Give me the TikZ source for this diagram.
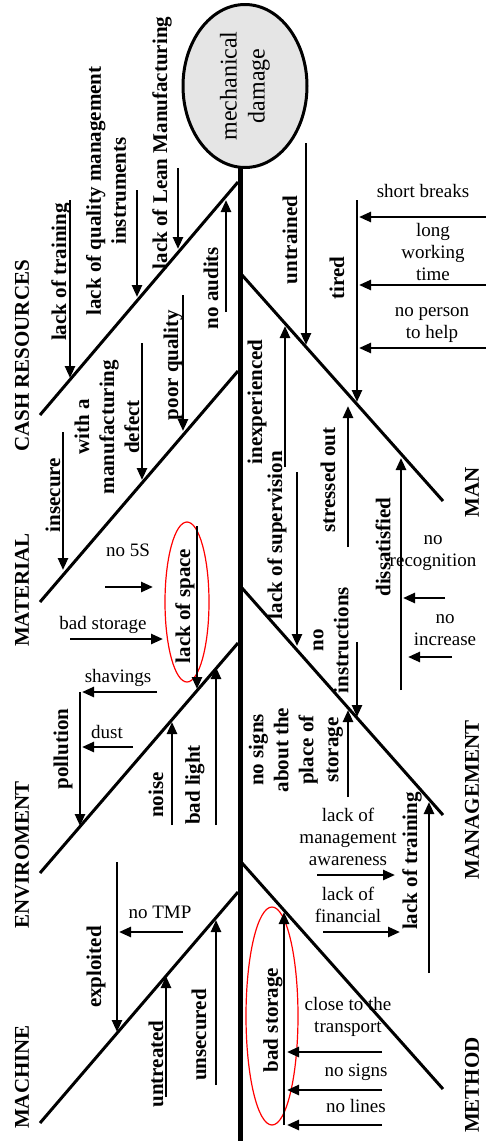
\documentclass[tikz,border=0pt]{standalone}
\usepackage{fontspec}
\setmainfont{Liberation Serif}
\usetikzlibrary{positioning}
\usetikzlibrary{arrows.meta}
\usetikzlibrary{shapes.geometric}

\begin{document}
\begin{tikzpicture}[x=1pt,y=-1pt]
\tikzset{
  head/.style={ellipse,draw=black,fill=gray!20,line width=3pt,rotate=90,minimum width=163pt,minimum height=124pt,inner sep=0pt,align=center,font=\fontsize{24}{28}\selectfont},
  bone/.style={line width=3pt},
  spine/.style={line width=5pt},
  cause/.style={line width=2.5pt,-{Triangle[length=12pt,width=10pt]}},
  why/.style={rotate=90,inner sep=0pt,align=center,font=\fontsize{21}{25}\selectfont\bfseries},
  note/.style={inner sep=0pt,align=center,font=\fontsize{19}{22}\selectfont},
  ring/.style={ellipse,draw=red,line width=1.2pt,inner sep=0pt},
}
\useasboundingbox (0,0) rectangle (486,1141);
%
\coordinate (spinetop) at (240,168);
\coordinate (spinebot) at (240,1141);
\draw[spine] (spinetop) -- (spinebot);
\node[head] (damage) at (245,86) {mechanical\\damage};
%
\coordinate (cash0) at (40,415);   \coordinate (cash1) at (238,182);
\coordinate (mat0) at (40,602);    \coordinate (mat1) at (238,371);
\coordinate (env0) at (40,873);    \coordinate (env1) at (238,643);
\coordinate (mach0) at (40,1123);  \coordinate (mach1) at (238,892);
\coordinate (man0) at (242,275);   \coordinate (man1) at (443,501);
\coordinate (mgmt0) at (242,588);  \coordinate (mgmt1) at (443,815);
\coordinate (meth0) at (242,863);  \coordinate (meth1) at (443,1089);
\draw[bone] (cash0) -- (cash1);
\draw[bone] (mat0) -- (mat1);
\draw[bone] (env0) -- (env1);
\draw[bone] (mach0) -- (mach1);
\draw[bone] (man0) -- (man1);
\draw[bone] (mgmt0) -- (mgmt1);
\draw[bone] (meth0) -- (meth1);
%
\node[why] (cash) at (22,356) {CASH RESOURCES};
\node[why] (material) at (22,590) {MATERIAL};
\node[why] (enviroment) at (22,855) {ENVIROMENT};
\node[why] (machine) at (22,1077) {MACHINE};
\node[why] (man) at (472,492) {MAN};
\node[why] (management) at (472,800) {MANAGEMENT};
\node[why] (method) at (472,1085) {METHOD};
%
% cash resources
\node[why] (training) at (61,272) {lack of training};
\node[why] (quality) at (106,191) {lack of quality management\\instruments};
\node[why] (lean) at (162,143) {lack of Lean Manufacturing};
\node[why] (audits) at (211,288) {no audits};
\coordinate (training0) at (70,200);  \coordinate (training1) at (70,378);
\coordinate (quality0) at (137,190);  \coordinate (quality1) at (137,297);
\coordinate (lean0) at (178,168);     \coordinate (lean1) at (178,249);
\coordinate (audits0) at (226,312);   \coordinate (audits1) at (226,200);
\draw[cause] (training0) -- (training1);
\draw[cause] (quality0) -- (quality1);
\draw[cause] (lean0) -- (lean1);
\draw[cause] (audits0) -- (audits1);
%
% material
\node[why] (insecure) at (53,495) {insecure};
\node[why] (defect) at (107,427) {with a\\manufacturing\\defect};
\node[why] (poor) at (173,365) {poor quality};
\node[why] (space) at (185,606) {lack of space};
\node[ring,minimum width=44pt,minimum height=160pt] (ringspace) at (187,602) {};
\node[note] (fives) at (128,550) {no 5S};
\node[note] (badstore) at (103,625) {bad storage};
\coordinate (insecure0) at (63,432);  \coordinate (insecure1) at (63,570);
\coordinate (defect0) at (142,343);   \coordinate (defect1) at (142,480);
\coordinate (poor0) at (183,295);     \coordinate (poor1) at (183,431);
\coordinate (space0) at (197,526);    \coordinate (space1) at (197,689);
\coordinate (fives0) at (105,587);    \coordinate (fives1) at (153,587);
\coordinate (badstore0) at (70,639);  \coordinate (badstore1) at (163,639);
\draw[cause] (insecure0) -- (insecure1);
\draw[cause] (defect0) -- (defect1);
\draw[cause] (poor0) -- (poor1);
\draw[cause] (space0) -- (space1);
\draw[cause] (fives0) -- (fives1);
\draw[cause] (badstore0) -- (badstore1);
%
% enviroment
\node[why] (pollution) at (63,749) {pollution};
\node[note] (shavings) at (118,678) {shavings};
\node[note] (dust) at (107,732) {dust};
\node[why] (noise) at (156,795) {noise};
\node[why] (light) at (195,785) {bad light};
\coordinate (pollution0) at (80,692); \coordinate (pollution1) at (80,826);
\coordinate (shavings0) at (157,692); \coordinate (shavings1) at (82,692);
\coordinate (dust0) at (133,747);     \coordinate (dust1) at (82,747);
\coordinate (noise0) at (172,825);    \coordinate (noise1) at (172,722);
\coordinate (light0) at (216,825);    \coordinate (light1) at (216,667);
\draw[cause] (pollution0) -- (pollution1);
\draw[cause] (shavings0) -- (shavings1);
\draw[cause] (dust0) -- (dust1);
\draw[cause] (noise0) -- (noise1);
\draw[cause] (light0) -- (light1);
%
% machine
\node[why] (exploited) at (96,967) {exploited};
\node[note] (tmp) at (160,912) {no TMP};
\node[why] (untreated) at (156,1064) {untreated};
\node[why] (unsecured) at (199,1035) {unsecured};
\coordinate (exploited0) at (117,862);  \coordinate (exploited1) at (117,1032);
\coordinate (tmp0) at (183,932);        \coordinate (tmp1) at (119,932);
\coordinate (untreated0) at (166,1097); \coordinate (untreated1) at (166,976);
\coordinate (unsecured0) at (216,1085); \coordinate (unsecured1) at (216,920);
\draw[cause] (exploited0) -- (exploited1);
\draw[cause] (tmp0) -- (tmp1);
\draw[cause] (untreated0) -- (untreated1);
\draw[cause] (unsecured0) -- (unsecured1);
%
% man
\node[why] (untrained) at (290,240) {untrained};
\node[why] (tired) at (337,278) {tired};
\node[note] (breaks) at (423,191) {short breaks};
\node[note] (longtime) at (433,252) {long\\working\\time};
\node[note] (person) at (432,325) {no person\\to help};
\node[why] (inexp) at (257,402) {inexperienced};
\node[why] (stressed) at (328,480) {stressed out};
\node[why] (dissat) at (383,547) {dissatisfied};
\node[note] (recog) at (433,553) {no\\recognition};
\node[note] (increase) at (445,630) {no\\increase};
\node[why] (superv) at (277,535) {lack of supervision};
\coordinate (untrained0) at (306,143); \coordinate (untrained1) at (306,345);
\coordinate (tired0) at (357,200);     \coordinate (tired1) at (357,402);
\coordinate (breaks0) at (486,217);    \coordinate (breaks1) at (359,217);
\coordinate (longtime0) at (486,285);  \coordinate (longtime1) at (359,285);
\coordinate (person0) at (486,348);    \coordinate (person1) at (359,348);
\coordinate (inexp0) at (285,467);     \coordinate (inexp1) at (285,326);
\coordinate (stressed0) at (348,547);  \coordinate (stressed1) at (348,406);
\coordinate (dissat0) at (401,690);    \coordinate (dissat1) at (401,458);
\coordinate (recog0) at (445,598);     \coordinate (recog1) at (403,598);
\coordinate (increase0) at (452,657);  \coordinate (increase1) at (408,657);
\coordinate (superv0) at (297,472);    \coordinate (superv1) at (297,646);
\draw[cause] (untrained0) -- (untrained1);
\draw[cause] (tired0) -- (tired1);
\draw[cause] (breaks0) -- (breaks1);
\draw[cause] (longtime0) -- (longtime1);
\draw[cause] (person0) -- (person1);
\draw[cause] (inexp0) -- (inexp1);
\draw[cause] (stressed0) -- (stressed1);
\draw[cause] (dissat0) -- (dissat1);
\draw[cause] (recog0) -- (recog1);
\draw[cause] (increase0) -- (increase1);
\draw[cause] (superv0) -- (superv1);
%
% management
\node[why] (instr) at (331,640) {no\\instructions};
\node[why] (signs) at (296,750) {no signs\\about the\\place of\\storage};
\node[why] (mtraining) at (412,861) {lack of training};
\node[note] (aware) at (348,837) {lack of\\management\\awareness};
\node[note] (financial) at (348,905) {lack of\\financial};
\coordinate (instr0) at (357,642);     \coordinate (instr1) at (357,717);
\coordinate (signs0) at (348,797);     \coordinate (signs1) at (348,710);
\coordinate (mtraining0) at (429,973); \coordinate (mtraining1) at (429,802);
\coordinate (aware0) at (317,875);     \coordinate (aware1) at (395,875);
\coordinate (financial0) at (323,932); \coordinate (financial1) at (400,932);
\draw[cause] (instr0) -- (instr1);
\draw[cause] (signs0) -- (signs1);
\draw[cause] (mtraining0) -- (mtraining1);
\draw[cause] (aware0) -- (aware1);
\draw[cause] (financial0) -- (financial1);
%
% method
\node[why] (storage) at (273,1020) {bad storage};
\node[ring,minimum width=52pt,minimum height=218pt] (ringstorage) at (272,1016) {};
\node[note] (transport) at (348,1017) {close to the\\transport};
\node[note] (nosigns) at (356,1072) {no signs};
\node[note] (nolines) at (356,1106) {no lines};
\coordinate (storage0) at (284,1125);   \coordinate (storage1) at (284,912);
\coordinate (transport0) at (382,1052); \coordinate (transport1) at (287,1052);
\coordinate (nosigns0) at (382,1090);   \coordinate (nosigns1) at (287,1090);
\coordinate (nolines0) at (382,1125);   \coordinate (nolines1) at (287,1125);
\draw[cause] (storage0) -- (storage1);
\draw[cause] (transport0) -- (transport1);
\draw[cause] (nosigns0) -- (nosigns1);
\draw[cause] (nolines0) -- (nolines1);
\end{tikzpicture}
\end{document}
